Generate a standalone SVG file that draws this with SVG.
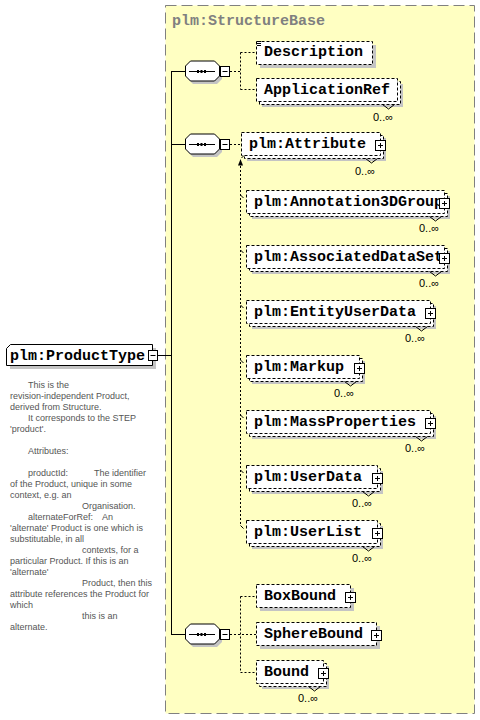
<svg xmlns="http://www.w3.org/2000/svg" xmlns:xlink="http://www.w3.org/1999/xlink" width="480" height="720" viewBox="0 0 480 720">
<style>
.sh{fill:#c4c4c4}
.opt{fill:#fff;stroke:#000;stroke-width:1;stroke-dasharray:3,2}
.req{fill:#fff;stroke:#000;stroke-width:1}
.nm{font-family:"Liberation Mono",monospace;font-weight:bold;font-size:15px;fill:#000}
.oc{font-family:"Liberation Sans",sans-serif;font-size:11px;fill:#000}
.doc{font-family:"Liberation Sans",sans-serif;font-size:9px;fill:#555}
.dl{stroke:#000;stroke-width:1;stroke-dasharray:2,2;fill:none}
.sl{stroke:#000;stroke-width:1;fill:none}
.nt{stroke:#000;stroke-width:1;fill:none}
</style>
<defs>
<g id="plus"><rect x="0.5" y="0.5" width="10" height="10" fill="#fff" stroke="#000"/><path d="M3,5.5h5M5.5,3v5" stroke="#000"/></g>
<g id="minus"><rect x="0.5" y="0.5" width="9" height="10" fill="#fff" stroke="#000"/><path d="M2.5,5.5h5" stroke="#000"/></g>
<g id="seq">
<polygon points="193,-7 217,-7 222,-2 222,8 217,13 193,13 188,8 188,-2" class="sh"/>
<polygon points="190.5,-10 214.5,-10 219.5,-5 219.5,5 214.5,10 190.5,10 185.5,5 185.5,-5" fill="#fff" stroke="#000"/>
<path d="M189,0.5H215" stroke="#000"/>
<rect x="197" y="-1" width="2" height="3" fill="#000"/><rect x="200.5" y="-1" width="2" height="3" fill="#000"/><rect x="204" y="-1" width="2" height="3" fill="#000"/>
</g>
</defs>

<g id="structure-base">
<rect x="165.5" y="5.5" width="309" height="708" fill="#ffffc2" stroke="#808080" stroke-dasharray="11,5"/>
<text x="172" y="25" class="nm" style="fill:#808080">plm:StructureBase</text>
</g>

<g id="connectors">
<path class="sl" d="M158,355.5H171.5M171.5,71V635M171.5,71.5H186M171.5,144.5H186M171.5,634.5H186"/>
<path class="dl" d="M230,71.5H240.5M240.5,52.5V89.5M240.5,52.5H256M240.5,89.5H256"/>
<path class="dl" d="M230,144.5H242"/>
<path class="dl" d="M240.5,166V526"/>
<polygon points="240.5,159 238,165.5 243,165.5" fill="#000"/>
<path class="sl" d="M241.5,158L246,153.5"/>
<polygon points="248,151.5 243.5,153 246.5,156" fill="#000"/>
<path class="sl" d="M240.5,195l3,3M240.5,250l3,3M240.5,305l3,3M240.5,360l3,3M240.5,415l3,3M240.5,470l3,3M240.5,525.5l3,3"/>
<path class="dl" d="M230,634.5H256M240.5,596.5V672.5M240.5,596.5H256M240.5,672.5H256"/>
</g>

<g id="seq1"><use xlink:href="#seq" href="#seq" transform="translate(0,71)"/><use xlink:href="#minus" href="#minus" x="220" y="66"/></g>
<g id="seq2"><use xlink:href="#seq" href="#seq" transform="translate(0,144)"/><use xlink:href="#minus" href="#minus" x="220" y="139"/></g>
<g id="seq3"><use xlink:href="#seq" href="#seq" transform="translate(0,634)"/><use xlink:href="#minus" href="#minus" x="220" y="629"/></g>

<g id="product-type">
<path d="M14,348H156V369H10V352Z" class="sh"/>
<path d="M10.5,344.5H152.5V365.5H6.5V348.5Z" class="req"/>
<text x="10" y="360" class="nm">plm:ProductType</text>
<use xlink:href="#minus" href="#minus" x="148" y="350"/>
</g>

<g id="description">
<rect x="260" y="45" width="116" height="23" class="sh"/>
<rect x="256.5" y="41.5" width="116" height="23" class="opt"/>
<path d="M257,41.5h4M257,43.5h4M257,45.5h4" stroke="#000"/>
<text x="264" y="56" class="nm">Description</text>
</g>

<g id="application-ref">
<rect x="262" y="84" width="141" height="23" class="sh"/>
<rect x="259.5" y="81.5" width="141" height="23" class="opt"/>
<rect x="256.5" y="78.5" width="141" height="23" class="opt"/>
<text x="264" y="94" class="nm">ApplicationRef</text>
<path class="nt" d="M382.5,104.5l6,4.5l6,-4.5"/>
<text x="373" y="121" class="oc">0..∞</text>
</g>

<g id="attribute">
<rect x="247" y="138" width="139" height="23" class="sh"/>
<rect x="244.5" y="135.5" width="139" height="23" class="opt"/>
<rect x="241.5" y="132.5" width="139" height="23" class="opt"/>
<text x="249" y="148" class="nm">plm:Attribute</text>
<use xlink:href="#plus" href="#plus" x="375" y="140"/>
<path class="nt" d="M365.5,158.5l6,4.5l6,-4.5"/>
<text x="355" y="175" class="oc">0..∞</text>
</g>

<g id="annotation3dgroup">
<rect x="252" y="196" width="198" height="23" class="sh"/>
<rect x="249.5" y="193.5" width="198" height="23" class="opt"/>
<rect x="246.5" y="190.5" width="198" height="23" class="opt"/>
<text x="254" y="206" class="nm">plm:Annotation3DGroup</text>
<use xlink:href="#plus" href="#plus" x="439" y="198"/>
<path class="nt" d="M429.5,216.5l6,4.5l6,-4.5"/>
<text x="419" y="232" class="oc">0..∞</text>
</g>

<g id="associateddataset">
<rect x="252" y="251" width="198" height="23" class="sh"/>
<rect x="249.5" y="248.5" width="198" height="23" class="opt"/>
<rect x="246.5" y="245.5" width="198" height="23" class="opt"/>
<text x="254" y="261" class="nm">plm:AssociatedDataSet</text>
<use xlink:href="#plus" href="#plus" x="439" y="253"/>
<path class="nt" d="M429.5,271.5l6,4.5l6,-4.5"/>
<text x="419" y="287" class="oc">0..∞</text>
</g>

<g id="entityuserdata">
<rect x="252" y="306" width="184" height="23" class="sh"/>
<rect x="249.5" y="303.5" width="184" height="23" class="opt"/>
<rect x="246.5" y="300.5" width="184" height="23" class="opt"/>
<text x="254" y="316" class="nm">plm:EntityUserData</text>
<use xlink:href="#plus" href="#plus" x="425" y="308"/>
<path class="nt" d="M415.5,326.5l6,4.5l6,-4.5"/>
<text x="405" y="342" class="oc">0..∞</text>
</g>

<g id="markup">
<rect x="252" y="361" width="113" height="23" class="sh"/>
<rect x="249.5" y="358.5" width="113" height="23" class="opt"/>
<rect x="246.5" y="355.5" width="113" height="23" class="opt"/>
<text x="254" y="371" class="nm">plm:Markup</text>
<use xlink:href="#plus" href="#plus" x="354" y="363"/>
<path class="nt" d="M344.5,381.5l6,4.5l6,-4.5"/>
<text x="334" y="397" class="oc">0..∞</text>
</g>

<g id="massproperties">
<rect x="252" y="416" width="184" height="23" class="sh"/>
<rect x="249.5" y="413.5" width="184" height="23" class="opt"/>
<rect x="246.5" y="410.5" width="184" height="23" class="opt"/>
<text x="254" y="426" class="nm">plm:MassProperties</text>
<use xlink:href="#plus" href="#plus" x="425" y="418"/>
<path class="nt" d="M415.5,436.5l6,4.5l6,-4.5"/>
<text x="405" y="452" class="oc">0..∞</text>
</g>

<g id="userdata">
<rect x="252" y="471" width="131" height="23" class="sh"/>
<rect x="249.5" y="468.5" width="131" height="23" class="opt"/>
<rect x="246.5" y="465.5" width="131" height="23" class="opt"/>
<text x="254" y="481" class="nm">plm:UserData</text>
<use xlink:href="#plus" href="#plus" x="372" y="473"/>
<path class="nt" d="M362.5,491.5l6,4.5l6,-4.5"/>
<text x="352" y="507" class="oc">0..∞</text>
</g>

<g id="userlist">
<rect x="252" y="526" width="131" height="23" class="sh"/>
<rect x="249.5" y="523.5" width="131" height="23" class="opt"/>
<rect x="246.5" y="520.5" width="131" height="23" class="opt"/>
<text x="254" y="536" class="nm">plm:UserList</text>
<use xlink:href="#plus" href="#plus" x="372" y="528"/>
<path class="nt" d="M362.5,546.5l6,4.5l6,-4.5"/>
<text x="352" y="562" class="oc">0..∞</text>
</g>

<g id="boxbound">
<rect x="260" y="588" width="94" height="23" class="sh"/>
<rect x="256.5" y="584.5" width="94" height="23" class="opt"/>
<text x="264" y="600" class="nm">BoxBound</text>
<use xlink:href="#plus" href="#plus" x="345" y="592"/>
</g>

<g id="spherebound">
<rect x="260" y="626" width="120" height="23" class="sh"/>
<rect x="256.5" y="622.5" width="120" height="23" class="opt"/>
<text x="264" y="638" class="nm">SphereBound</text>
<use xlink:href="#plus" href="#plus" x="371" y="630"/>
</g>

<g id="bound">
<rect x="262" y="666" width="67" height="23" class="sh"/>
<rect x="259.5" y="663.5" width="67" height="23" class="opt"/>
<rect x="256.5" y="660.5" width="67" height="23" class="opt"/>
<text x="264" y="676" class="nm">Bound</text>
<use xlink:href="#plus" href="#plus" x="318" y="668"/>
<path class="nt" d="M308.5,686.5l6,4.5l6,-4.5"/>
<text x="298" y="702" class="oc">0..∞</text>
</g>

<g id="product-type-doc" class="doc">
<text x="28" y="387.5">This is the</text>
<text x="10" y="398.5">revision-independent Product,</text>
<text x="10" y="409.5">derived from Structure.</text>
<text x="28" y="420.5">It corresponds to the STEP</text>
<text x="10" y="431.5">'product'.</text>
<text x="28" y="453.5">Attributes:</text>
<text x="28" y="475.5">productId:<tspan x="94">The identifier</tspan></text>
<text x="10" y="486.5">of the Product, unique in some</text>
<text x="10" y="497.5">context, e.g. an</text>
<text x="82" y="508.5">Organisation.</text>
<text x="28" y="519.5">alternateForRef:<tspan x="102">An</tspan></text>
<text x="10" y="530.5">'alternate' Product is one which is</text>
<text x="10" y="541.5">substitutable, in all</text>
<text x="82" y="552.5">contexts, for a</text>
<text x="10" y="563.5">particular Product. If this is an</text>
<text x="10" y="574.5">'alternate'</text>
<text x="82" y="585.5">Product, then this</text>
<text x="10" y="596.5">attribute references the Product for</text>
<text x="10" y="607.5">which</text>
<text x="82" y="618.5">this is an</text>
<text x="10" y="629.5">alternate.</text>
</g>
</svg>
